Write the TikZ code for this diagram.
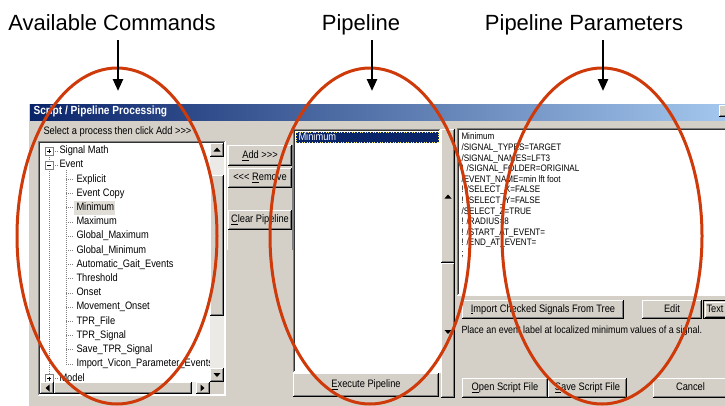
\documentclass[tikz,border=0pt]{standalone}
\usepackage{fontspec}
\setmainfont{Liberation Sans}
\newfontfamily\uifont[FakeStretch=0.86]{Liberation Sans}
\usepackage{tikz}
\usetikzlibrary{arrows.meta}
\definecolor{winface}{RGB}{212, 208, 200}
\definecolor{winshadow}{RGB}{128, 128, 128}
\definecolor{titledark}{RGB}{10, 36, 106}
\definecolor{titlelight}{RGB}{166, 202, 240}
\definecolor{selblue}{RGB}{10, 36, 106}
\definecolor{trackgray}{RGB}{236, 234, 230}
\definecolor{rust}{RGB}{206, 58, 10}

% raised 3d box: x1 y1 x2 y2 (y grows downward)
\newcommand{\raisedpanel}[4]{%
  \fill[winface] (#1,#2) rectangle (#3,#4);
  \draw[white] (#1+0.5,#4-1) -- (#1+0.5,#2+0.5) -- (#3-1,#2+0.5);
  \draw[winshadow] (#1+1,#4-1.5) -- (#3-1.5,#4-1.5) -- (#3-1.5,#2+1);
  \draw[black] (#1,#4-0.5) -- (#3-0.5,#4-0.5) -- (#3-0.5,#2);
}
% sunken 3d box: x1 y1 x2 y2 fill
\newcommand{\sunkenpanel}[5]{%
  \fill[#5] (#1,#2) rectangle (#3,#4);
  \draw[winshadow] (#1+0.5,#4-1) -- (#1+0.5,#2+0.5) -- (#3-1,#2+0.5);
  \draw[black!80] (#1+1.5,#4-2) -- (#1+1.5,#2+1.5) -- (#3-2,#2+1.5);
  \draw[white] (#1,#4-0.5) -- (#3-0.5,#4-0.5) -- (#3-0.5,#2);
}

\tikzset{
  caption/.style={font=\fontsize{22}{26}\selectfont, inner sep=0pt, anchor=base},
  pointer/.style={line width=2.5pt, -{Triangle[length=12pt,width=10pt]}, shorten <=10pt},
  ring/.style={draw=rust, line width=3pt},
  uitext/.style={font=\uifont\fontsize{10.8}{12}\selectfont, inner sep=0pt, anchor=west,
                 text height=7.5pt, text depth=2pt},
  btntext/.style={uitext, anchor=center},
  titletext/.style={uitext, font=\uifont\bfseries\fontsize{11.8}{13}\selectfont, text=white},
  paramline/.style={font=\uifont\fontsize{9.4}{11}\selectfont, inner sep=0pt, anchor=west,
                    text height=7pt, text depth=2pt},
  treedots/.style={dash pattern=on 1pt off 1pt, draw=winshadow, line width=1pt},
  plusbox/.style={fill=white, draw=winshadow, line width=1pt}
}

\begin{document}
\begin{tikzpicture}[x=1pt, y=-1pt, line width=1pt]
  \useasboundingbox (0,0) rectangle (725,405);
  \clip (0,0) rectangle (725,405);

  % window frame and title bar
  \fill[winface] (28,103) rectangle (740,420);
  \shade[left color=titledark, right color=titlelight] (30,104) rectangle (740,120);
  \draw[white] (28.5,420) -- (28.5,103.5) -- (740,103.5);
  \node[titletext] (wintitle) at (33,112) {Script / Pipeline Processing};
  \raisedpanel{719}{105}{735}{117}
  \node[uitext] (hint) at (43,132) {Select a process then click Add >>>};

  % command tree
  \sunkenpanel{38}{141}{226}{396}{white}
  \fill[winface!70!white] (74,201) rectangle (115,215);
  \begin{scope}
    \clip (40,143) rectangle (210,382);
    \draw[treedots] (49,151) -- (49,379);
    \draw[treedots] (66,170) -- (66,364.5);
    \draw[treedots] (53,151) -- (58,151) (53,165.2) -- (58,165.2) (53,378.7) -- (58,378.7);
    \draw[treedots] (66,179.4) -- (74,179.4) (66,193.6) -- (74,193.6) (66,207.8) -- (74,207.8)
                    (66,222) -- (74,222) (66,236.2) -- (74,236.2) (66,250.4) -- (74,250.4)
                    (66,264.6) -- (74,264.6) (66,278.8) -- (74,278.8) (66,293) -- (74,293)
                    (66,307.2) -- (74,307.2) (66,321.4) -- (74,321.4) (66,335.6) -- (74,335.6)
                    (66,349.8) -- (74,349.8) (66,364) -- (74,364);
    \filldraw[plusbox] (45,147) rectangle (53,155);
    \draw[black] (47,151) -- (51,151) (49,149) -- (49,153);
    \filldraw[plusbox] (45,161.2) rectangle (53,169.2);
    \draw[black] (47,165.2) -- (51,165.2);
    \filldraw[plusbox] (45,374.7) rectangle (53,382.7);
    \draw[black] (47,378.7) -- (51,378.7) (49,376.7) -- (49,380.7);
    \node[uitext] (signalmath) at (59,151)   {Signal Math};
    \node[uitext] (event)      at (59,165.2) {Event};
    \node[uitext] (explicit)   at (76,179.4) {Explicit};
    \node[uitext] (eventcopy)  at (76,193.6) {Event Copy};
    \node[uitext] (minimum)    at (76,207.8) {Minimum};
    \node[uitext] (maximum)    at (76,222)   {Maximum};
    \node[uitext] (globalmax)  at (76,236.2) {Global\_Maximum};
    \node[uitext] (globalmin)  at (76,250.4) {Global\_Minimum};
    \node[uitext] (autogait)   at (76,264.6) {Automatic\_Gait\_Events};
    \node[uitext] (threshold)  at (76,278.8) {Threshold};
    \node[uitext] (onset)      at (76,293)   {Onset};
    \node[uitext] (moveonset)  at (76,307.2) {Movement\_Onset};
    \node[uitext] (tprfile)    at (76,321.4) {TPR\_File};
    \node[uitext] (tprsignal)  at (76,335.6) {TPR\_Signal};
    \node[uitext] (savetpr)    at (76,349.8) {Save\_TPR\_Signal};
    \node[uitext] (viconevts)  at (76,364)   {Import\_Vicon\_Parameter\_Events};
    \node[uitext] (model)      at (59,378.7) {Model};
  \end{scope}

  % tree scroll bars
  \fill[trackgray] (210,143) rectangle (224,382);
  \raisedpanel{210}{143}{224}{157}
  \fill (217,147.5) -- (220.5,151.5) -- (213.5,151.5) -- cycle;
  \raisedpanel{210}{175}{224}{316}
  \raisedpanel{210}{368}{224}{382}
  \fill (213.5,373) -- (220.5,373) -- (217,377) -- cycle;
  \fill[trackgray] (40,382) rectangle (210,394);
  \raisedpanel{40}{382}{54}{394}
  \fill (45.5,388) -- (49.5,384.5) -- (49.5,391.5) -- cycle;
  \raisedpanel{54}{382}{192}{394}
  \raisedpanel{196}{382}{210}{394}
  \fill (204.5,388) -- (200.5,384.5) -- (200.5,391.5) -- cycle;
  \fill[winface] (210,382) rectangle (224,394);

  % add / remove buttons
  \draw[white] (227.5,250) -- (227.5,145);
  \draw[winshadow] (292.5,250) -- (292.5,145);
  \raisedpanel{228}{145}{292}{166}
  \node[btntext] (addbtn) at (260,156) {\underline{A}dd >>>};
  \raisedpanel{228}{168}{292}{188}
  \node[btntext] (removebtn) at (260,178) {<<< \underline{R}emove};
  \raisedpanel{228}{210}{292}{230}
  \node[btntext] (clearbtn) at (260,220) {\underline{C}lear Pipeline};

  % pipeline list
  \sunkenpanel{293}{129}{441}{373}{white}
  \fill[selblue] (296,132) rectangle (439,143);
  \draw[dotted, yellow!60!white, line width=0.6pt] (296.3,132.3) rectangle (438.7,142.7);
  \node[uitext, text=white] (pipeitem) at (298,137.5) {Minimum};
  \raisedpanel{441}{129}{455}{263}
  \fill (448,194.5) -- (451.5,198.5) -- (444.5,198.5) -- cycle;
  \raisedpanel{441}{263}{455}{398}
  \fill (444.5,330) -- (451.5,330) -- (448,334) -- cycle;
  \raisedpanel{293}{373}{439}{397}
  \node[btntext] (execbtn) at (366,385) {\underline{E}xecute Pipeline};

  % parameter text
  \sunkenpanel{457}{128}{740}{296}{white}
  \node[paramline] (prm0)  at (461,137.3) {Minimum};
  \node[paramline] (prm1)  at (461,147.9) {/SIGNAL\_TYPES=TARGET};
  \node[paramline] (prm2)  at (461,158.5) {/SIGNAL\_NAMES=LFT3};
  \node[paramline] (prm3)  at (461,169.1) {! /SIGNAL\_FOLDER=ORIGINAL};
  \node[paramline] (prm4)  at (461,179.7) {/EVENT\_NAME=min lft foot};
  \node[paramline] (prm5)  at (461,190.3) {! /SELECT\_X=FALSE};
  \node[paramline] (prm6)  at (461,200.9) {! /SELECT\_Y=FALSE};
  \node[paramline] (prm7)  at (461,211.5) {/SELECT\_Z=TRUE};
  \node[paramline] (prm8)  at (461,222.1) {! /RADIUS=8};
  \node[paramline] (prm9)  at (461,232.7) {! /START\_AT\_EVENT=};
  \node[paramline] (prm10) at (461,243.3) {! /END\_AT\_EVENT=};
  \node[paramline] (prm11) at (461,253.9) {;};

  \raisedpanel{462}{300}{624}{319}
  \node[btntext] (importbtn) at (543,309.5) {\underline{I}mport Checked Signals From Tree};
  \raisedpanel{642}{300}{702}{319}
  \node[btntext] (editbtn) at (672,309.5) {Edit};
  \draw[black] (703.5,300.5) rectangle (740,318.5);
  \raisedpanel{704.5}{301.5}{740}{317.5}
  \node[uitext] (textbtn) at (706,309.5) {Text};
  \node[uitext, font=\uifont\fontsize{10.4}{12}\selectfont] (descr) at (461,331)
    {Place an event label at localized minimum values of a signal.};

  \raisedpanel{462}{378}{548}{398}
  \node[btntext] (openbtn) at (505,388) {\underline{O}pen Script File};
  \raisedpanel{548}{378}{627}{398}
  \node[btntext] (savebtn) at (587.5,388) {\underline{S}ave Script File};
  \raisedpanel{653}{378}{728}{398}
  \node[btntext] (cancelbtn) at (690.5,388) {Cancel};

  % call-outs
  \draw[ring] (117,236) ellipse [x radius=100, y radius=168];
  \draw[ring] (370,236) ellipse [x radius=100, y radius=168];
  \draw[ring] (602,236) ellipse [x radius=100, y radius=168];

  \node[caption] (availlbl) at (112,30) {Available Commands};
  \node[caption] (pipelbl)  at (361,30) {Pipeline};
  \node[caption] (paramlbl) at (584,30) {Pipeline Parameters};
  \coordinate (availtip) at (118,91);
  \coordinate (pipetip)  at (372,91);
  \coordinate (paramtip) at (603,91);
  \draw[pointer] (availlbl.base -| availtip) -- (availtip);
  \draw[pointer] (pipelbl.base -| pipetip) -- (pipetip);
  \draw[pointer] (paramlbl.base -| paramtip) -- (paramtip);
\end{tikzpicture}
\end{document}
